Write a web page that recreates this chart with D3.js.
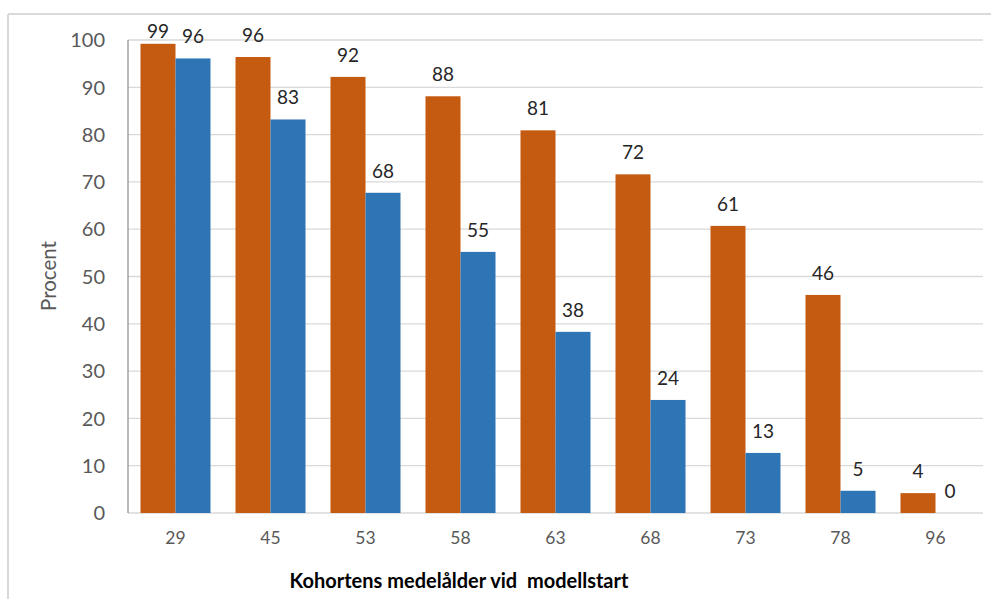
<!DOCTYPE html>
<html>
<head>
<meta charset="utf-8">
<script src="https://cdn.jsdelivr.net/npm/d3@7"></script>
<style>
  html, body { margin: 0; padding: 0; background: #fff; }
  svg { display: block; font-family: Lato, "Open Sans", sans-serif; }
</style>
</head>
<body>
<svg id="chart" width="991" height="599"></svg>
<script>
const categories = ["29", "45", "53", "58", "63", "68", "73", "78", "96"];
const seriesNames = ["A", "B"];
const orangeValues = [99.2, 96.4, 92.2, 88.1, 80.9, 71.6, 60.7, 46.1, 4.2];
const blueValues = [96.1, 83.2, 67.7, 55.2, 38.3, 23.9, 12.7, 4.7, 0];
const yTicks = [0, 10, 20, 30, 40, 50, 60, 70, 80, 90, 100];
const yTitle = "Procent";
const xTitle = "Kohortens medelålder vid  modellstart";

(function () {
const colors = { A: "#C55A11", B: "#2E75B6" };
const svg = d3.select("#chart");
svg.append("rect").attr("width", 991).attr("height", 599).attr("fill", "#fff");

// frame
svg.append("line").attr("x1", 8).attr("x2", 991).attr("y1", 14).attr("y2", 14)
  .attr("stroke", "#d9d9d9").attr("stroke-width", 2);
svg.append("line").attr("x1", 8).attr("x2", 8).attr("y1", 14).attr("y2", 599)
  .attr("stroke", "#d9d9d9").attr("stroke-width", 2);

const pLeft = 128, pRight = 983, pTop = 40, pBottom = 513;
const y = d3.scaleLinear().domain([0, 100]).range([pBottom, pTop]);
const x0 = d3.scaleBand().domain(categories).range([pLeft, pRight]);
const x1 = d3.scaleBand().domain(seriesNames).range([12.5, x0.bandwidth() - 12.5]);

// gridlines
svg.append("g").selectAll("line").data(yTicks).join("line")
  .attr("x1", pLeft).attr("x2", pRight)
  .attr("y1", d => y(d)).attr("y2", d => y(d))
  .attr("stroke", "#d9d9d9").attr("stroke-width", 1.3);

// y tick labels
svg.append("g").selectAll("text").data(yTicks).join("text")
  .attr("x", 105).attr("y", d => y(d)).attr("dy", "0.36em")
  .attr("text-anchor", "end").attr("fill", "#595959")
  .attr("font-size", 20).text(d => d);

const rows = categories.map((c, i) => ({ cat: c, A: orangeValues[i], B: blueValues[i] }));

const groups = svg.append("g").selectAll("g").data(rows).join("g")
  .attr("transform", d => `translate(${x0(d.cat)},0)`);

groups.selectAll("rect").data(d => seriesNames.map(k => ({ k, v: d[k] }))).join("rect")
  .attr("x", d => x1(d.k)).attr("width", x1.bandwidth())
  .attr("y", d => y(d.v)).attr("height", d => y(0) - y(d.v))
  .attr("fill", d => colors[d.k]);

groups.selectAll("text").data(d => seriesNames.map(k => ({ k, v: d[k] }))).join("text")
  .attr("x", d => x1(d.k) + x1.bandwidth() / 2 + (d.v === 0 ? -3 : 0))
  .attr("y", d => Math.max(y(d.v) - 15, 38))
  .attr("text-anchor", "middle").attr("fill", "#262626")
  .attr("font-size", 19).text(d => Math.round(d.v));

// y axis line
svg.append("line").attr("x1", pLeft).attr("x2", pLeft).attr("y1", pTop).attr("y2", pBottom)
  .attr("stroke", "#8c8c8c").attr("stroke-width", 1.2);

// x tick labels
svg.append("g").selectAll("text").data(categories).join("text")
  .attr("x", d => x0(d) + x0.bandwidth() / 2).attr("y", 544)
  .attr("text-anchor", "middle").attr("fill", "#595959")
  .attr("font-size", 17.5).text(d => d);

// titles
svg.append("text").attr("transform", "translate(56,276) rotate(-90)")
  .attr("text-anchor", "middle").attr("fill", "#595959")
  .attr("font-size", 20.5).text(yTitle);

svg.append("text").attr("x", 459).attr("y", 588)
  .attr("text-anchor", "middle").attr("fill", "#000")
  .attr("font-weight", "bold").attr("font-size", 20)
  .attr("xml:space", "preserve").style("white-space", "pre").text(xTitle);
})();
</script>
</body>
</html>
